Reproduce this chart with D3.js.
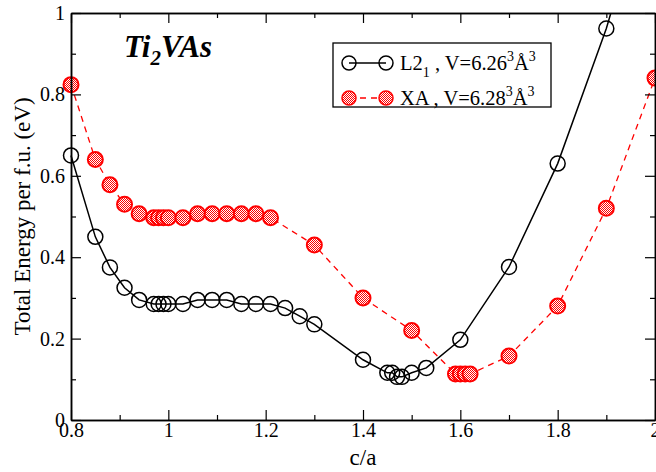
<!DOCTYPE html>
<html>
<head>
<meta charset="utf-8">
<script src="https://cdn.jsdelivr.net/npm/d3@7"></script>
<style>
  body { margin: 0; background: #fff; }
  svg { display: block; }
  svg text { font-family: "Liberation Serif", "Times New Roman", Times, "DejaVu Serif", serif; }
</style>
</head>
<body>
<svg id="chart" width="656" height="472"></svg>
<script>
// c/a values and total energies
const l21X = [0.80, 0.85, 0.88, 0.91, 0.94, 0.97, 0.98, 0.99, 1.00, 1.03, 1.06, 1.09, 1.12, 1.15, 1.18, 1.21, 1.24, 1.27, 1.30, 1.40, 1.45, 1.46, 1.47, 1.48, 1.50, 1.53, 1.60, 1.70, 1.80, 1.90, 2.00]
const l21Y = [0.65, 0.45, 0.375, 0.325, 0.295, 0.285, 0.285, 0.285, 0.285, 0.285, 0.295, 0.295, 0.295, 0.285, 0.285, 0.285, 0.275, 0.255, 0.235, 0.148, 0.116, 0.116, 0.106, 0.106, 0.116, 0.128, 0.197, 0.376, 0.63, 0.962, 1.37]
const xaX = [0.80, 0.85, 0.88, 0.91, 0.94, 0.97, 0.98, 0.99, 1.00, 1.03, 1.06, 1.09, 1.12, 1.15, 1.18, 1.21, 1.30, 1.40, 1.50, 1.59, 1.60, 1.61, 1.62, 1.70, 1.80, 1.90, 2.00]
const xaY = [0.824, 0.64, 0.578, 0.53, 0.507, 0.497, 0.497, 0.497, 0.497, 0.497, 0.507, 0.507, 0.507, 0.507, 0.507, 0.497, 0.43, 0.30, 0.22, 0.113, 0.113, 0.113, 0.113, 0.157, 0.28, 0.52, 0.84]
const xTicks = [0.8, 1, 1.2, 1.4, 1.6, 1.8, 2]
const yTicks = [0, 0.2, 0.4, 0.6, 0.8, 1]
const xMinor = [0.9, 1.1, 1.3, 1.5, 1.7, 1.9]
const yMinor = [0.1, 0.3, 0.5, 0.7, 0.9]

const serif = '"Liberation Serif", "Times New Roman", Times, "DejaVu Serif", serif'
const svg = d3.select("#chart")
const margin = {left: 71, right: 1, top: 13, bottom: 52}
const width = 656 - margin.left - margin.right
const height = 472 - margin.top - margin.bottom

const x = d3.scaleLinear().domain([0.8, 2]).range([0, width])
const y = d3.scaleLinear().domain([0, 1]).range([height, 0])

// checker fill for the XA markers (defined in page pixels so it stays crisp)
const defs = svg.append("defs")
const pat = defs.append("pattern").attr("id", "checker")
    .attr("width", 2).attr("height", 2).attr("patternUnits", "userSpaceOnUse")
pat.append("rect").attr("width", 2).attr("height", 2).attr("fill", "#ffffff")
pat.append("rect").attr("width", 1).attr("height", 1).attr("fill", "#ff0000")
pat.append("rect").attr("x", 1).attr("y", 1).attr("width", 1).attr("height", 1).attr("fill", "#ff0000")
defs.append("clipPath").attr("id", "clip")
    .append("rect").attr("x", -20).attr("width", width + 40).attr("height", height)

const g = svg.append("g").attr("transform", `translate(${margin.left},${margin.top})`)

const l21 = l21X.map((d, i) => ({x: d, y: l21Y[i]}))
const xa = xaX.map((d, i) => ({x: d, y: xaY[i]}))
const line = d3.line().x(d => x(d.x)).y(d => y(d.y))

const plot = g.append("g").attr("clip-path", "url(#clip)")

plot.append("path").datum(xa)
    .attr("d", line).attr("fill", "none")
    .attr("stroke", "#ff0000").attr("stroke-width", 1.3).attr("stroke-dasharray", "6,5")
plot.append("path").datum(l21)
    .attr("d", line).attr("fill", "none")
    .attr("stroke", "#000").attr("stroke-width", 1.5)

plot.selectAll(".xa").data(xa).enter().append("circle")
    .attr("cx", d => x(d.x)).attr("cy", d => y(d.y)).attr("r", 7.5)
    .attr("fill", "url(#checker)").attr("stroke", "#ff0000").attr("stroke-width", 2)
plot.selectAll(".l21").data(l21.filter(d => d.y <= 1)).enter().append("circle")
    .attr("cx", d => x(d.x)).attr("cy", d => y(d.y)).attr("r", 7.5)
    .attr("fill", "none").attr("stroke", "#000").attr("stroke-width", 1.5)

// axes with inward ticks on every side
function axisSet(axisFn, scale, major, minor, labels) {
    const a = axisFn(scale).tickValues(major).tickSizeInner(-10).tickSizeOuter(0)
        .tickFormat(labels ? d3.format("") : "")
    const m = axisFn(scale).tickValues(minor).tickSizeInner(-5).tickSizeOuter(0).tickFormat("")
    return [a, m]
}
function drawAxis(transform, axes) {
    axes.forEach(a => {
        const ax = g.append("g").attr("transform", transform).call(a)
            .attr("font-family", serif)
        ax.select(".domain").attr("stroke", "#000").attr("stroke-width", 1.5)
        ax.selectAll(".tick line").attr("stroke", "#000").attr("stroke-width", 1.2)
        ax.selectAll(".tick text").attr("font-size", 20).attr("fill", "#000")
    })
}
drawAxis(`translate(0,${height})`, axisSet(d3.axisBottom, x, xTicks, xMinor, true))
drawAxis(`translate(0,0)`, axisSet(d3.axisTop, x, xTicks, xMinor, false))
drawAxis(`translate(0,0)`, axisSet(d3.axisLeft, y, yTicks, yMinor, true))
drawAxis(`translate(${width},0)`, axisSet(d3.axisRight, y, yTicks, yMinor, false))

// nudge tick labels away from the frame
g.selectAll(".tick text").each(function () {
    const t = d3.select(this)
    if (t.attr("dy") === "0.71em") t.attr("y", 3)
    else t.attr("x", -6)
})

// axis titles
svg.append("text").attr("x", margin.left + x(1.4)).attr("y", 465)
    .attr("text-anchor", "middle").attr("font-size", 23).text("c/a")
svg.append("text").attr("transform", `translate(30,${margin.top + height / 2}) rotate(-90)`)
    .attr("text-anchor", "middle").attr("font-size", 23).text("Total Energy per f.u. (eV)")

// compound label
const title = svg.append("text").attr("x", 124).attr("y", 57)
    .attr("font-size", 31).attr("font-weight", "bold").attr("font-style", "italic")
title.append("tspan").text("Ti")
title.append("tspan").attr("font-size", 21).attr("dy", 8).text("2")
title.append("tspan").attr("dy", -8).text("VAs")

// legend
const lg = svg.append("g").attr("transform", "translate(333,43)")
lg.append("rect").attr("width", 218).attr("height", 64)
    .attr("fill", "#fff").attr("stroke", "#000").attr("stroke-width", 1.3)
const entries = [
    {name: "L2", sub: "1", vol: "6.26", stroke: "#000", fill: "none", dash: null, w: 1.5},
    {name: "XA", sub: "", vol: "6.28", stroke: "#ff0000", fill: "url(#checker)", dash: "6,5", w: 1.3}
]
entries.forEach((e, i) => {
    const cy = 20 + i * 35
    lg.append("line").attr("x1", 16).attr("x2", 53).attr("y1", cy).attr("y2", cy)
        .attr("stroke", e.stroke).attr("stroke-width", e.w).attr("stroke-dasharray", e.dash)
    ;[16, 53].forEach(cx => lg.append("circle").attr("cx", cx).attr("cy", cy).attr("r", 7)
        .attr("fill", e.fill).attr("stroke", e.stroke).attr("stroke-width", 1.5))
    const t = lg.append("text").attr("x", 67).attr("y", cy + 7).attr("font-size", 20.5)
    t.append("tspan").text(e.name)
    if (e.sub) {
        t.append("tspan").attr("font-size", 14).attr("dy", 7).text(e.sub)
        t.append("tspan").attr("dy", -7).text(" , V=" + e.vol)
    } else {
        t.append("tspan").text(" , V=" + e.vol)
    }
    t.append("tspan").attr("font-size", 14).attr("dy", -9).text("3")
    t.append("tspan").attr("dy", 9).text("Å")
    t.append("tspan").attr("font-size", 14).attr("dy", -9).text("3")
})
</script>
</body>
</html>
